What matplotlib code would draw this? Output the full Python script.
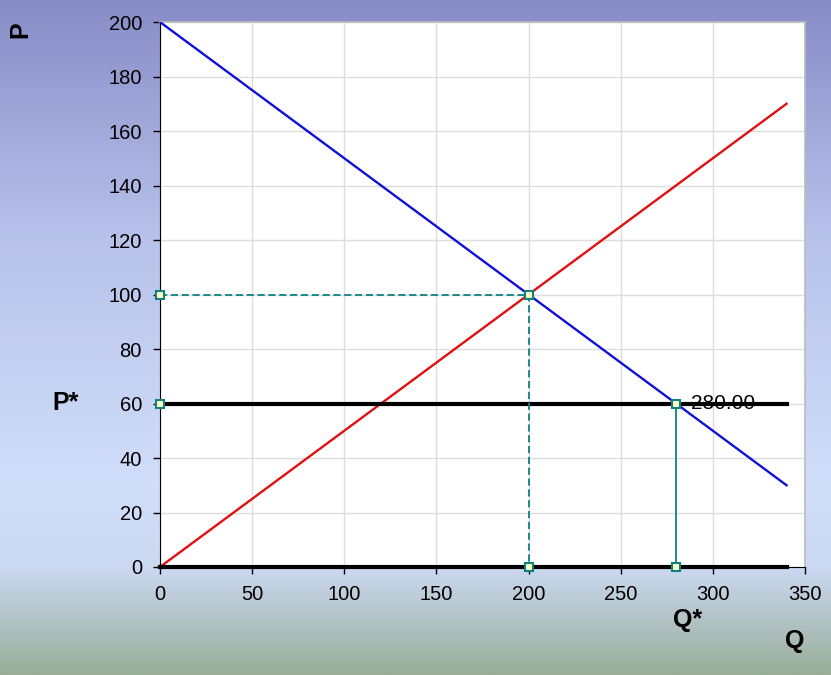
import numpy as np
import matplotlib
matplotlib.use('Agg')
import matplotlib.pyplot as plt
from matplotlib.colors import LinearSegmentedColormap

# data
q_line = [0, 340]
demand_p = [200, 30]
supply_p = [0, 170]
price_cap = [60, 60]
zero_p = [0, 0]

eq_q = [0, 200, 200]
eq_p = [100, 100, 0]
cap_q = [280, 280]
cap_p = [60, 0]
cap_axis_q = [0]
cap_axis_p = [60]
cap_label = '280.00'

x_ticks = [0, 50, 100, 150, 200, 250, 300, 350]
y_ticks = [0, 20, 40, 60, 80, 100, 120, 140, 160, 180, 200]

plt.rcParams['font.family'] = ['Liberation Sans', 'DejaVu Sans']

fig = plt.figure(figsize=(8.31, 6.75), dpi=100)

# gradient background
bg = fig.add_axes([0, 0, 1, 1], zorder=-10)
cmap = LinearSegmentedColormap.from_list('bg', [
    (0.0, (0.53, 0.55, 0.78)),
    (0.35, (0.72, 0.76, 0.92)),
    (0.72, (0.82, 0.87, 0.98)),
    (0.84, (0.80, 0.85, 0.95)),
    (1.0, (0.60, 0.68, 0.60)),
])
grad = np.linspace(0, 1, 256).reshape(-1, 1)
bg.imshow(grad, aspect='auto', cmap=cmap, extent=[0, 1, 0, 1], origin='upper')
bg.axis('off')

ax = fig.add_axes([0.1925, 0.16, 0.7762, 0.8074])
ax.set_facecolor('white')

teal = '#108080'
mk = dict(marker='s', markersize=6, markerfacecolor='#ffffc0',
          markeredgecolor=teal, markeredgewidth=1.5)

ax.plot(q_line, demand_p, color='#1010d8', linewidth=1.7, zorder=3)
ax.plot(q_line, supply_p, color='#e01010', linewidth=1.7, zorder=3)
ax.plot(q_line, price_cap, color='black', linewidth=3, zorder=4)
ax.plot(q_line, zero_p, color='black', linewidth=3, zorder=4, clip_on=False)

ax.plot(eq_q, eq_p, color=teal, linestyle=(0, (4, 2)), linewidth=1.3, zorder=5,
        clip_on=False, **mk)
ax.plot(cap_q, cap_p, color=teal, linewidth=1.3, zorder=5, clip_on=False, **mk)
ax.plot(cap_axis_q, cap_axis_p, linestyle='none', zorder=5, clip_on=False, **mk)
ax.text(cap_q[0] + 8, cap_p[0], cap_label, fontsize=15, va='center', ha='left', zorder=6)

ax.set_xlim(0, 350)
ax.set_ylim(0, 200)
ax.set_xticks(x_ticks)
ax.set_yticks(y_ticks)
ax.grid(True, color='#dddddd', linewidth=1)
ax.set_axisbelow(True)
ax.tick_params(labelsize=14.5, direction='out', length=5, width=1, colors='black', pad=8)
for s in ['top', 'right']:
    ax.spines[s].set_color('#bbbbbb')
    ax.spines[s].set_linewidth(1.2)
ax.spines['left'].set_color('black')
ax.spines['bottom'].set_color('black')

fig.text(20 / 831, 1 - 30 / 675, 'P', rotation=90, fontsize=18, fontweight='bold',
         ha='center', va='center')
fig.text(66 / 831, 1 - 403 / 675, 'P*', fontsize=18, fontweight='bold',
         ha='center', va='center')
fig.text(688 / 831, 1 - 620 / 675, 'Q*', fontsize=18, fontweight='bold',
         ha='center', va='center')
fig.text(795 / 831, 1 - 641 / 675, 'Q', fontsize=18, fontweight='bold',
         ha='center', va='center')

fig.savefig('out.png', dpi=100)
